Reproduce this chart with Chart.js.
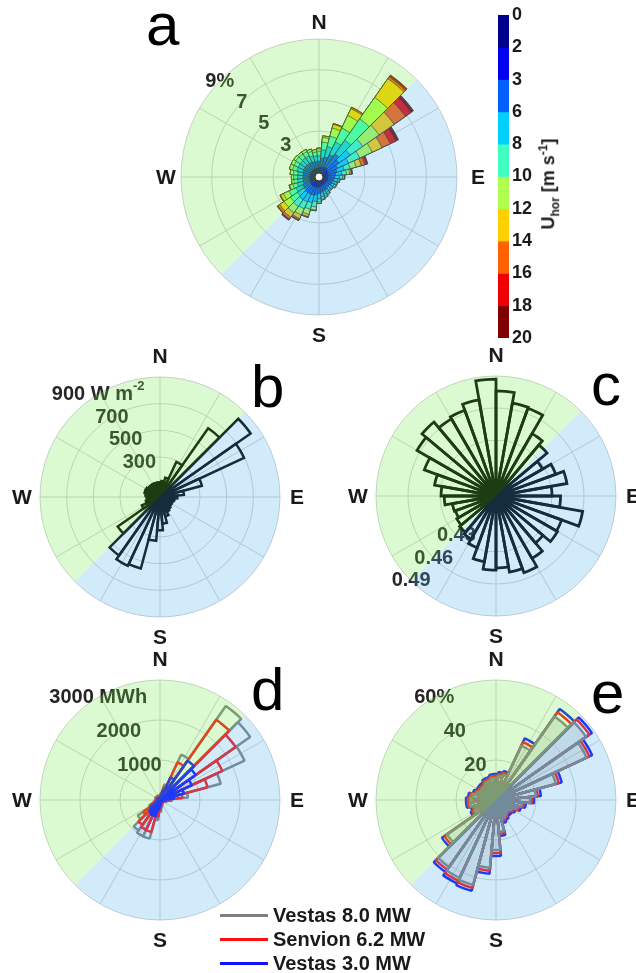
<!DOCTYPE html>
<html>
<head>
<meta charset="utf-8">
<title>Wind roses</title>
<script src="https://cdn.jsdelivr.net/npm/chart.js@4.4.1/dist/chart.umd.min.js"></script>
<style>
  html, body { margin: 0; padding: 0; background: #fff; overflow: hidden; }
  body { width: 636px; height: 973px; position: relative; }
  canvas { position: absolute; }
  .cbtitle { position: absolute; left: 549px; top: 184px; transform: translate(-50%, -50%) rotate(-90deg);
    font: bold 18px 'Liberation Sans', Arial, sans-serif; color: #1a1a1a; white-space: nowrap; }
  .cbtitle sub, .cbtitle sup { font-size: 12px; }
  #legend { position: absolute; left: 220px; top: 903px; font: bold 20px 'Liberation Sans', Arial, sans-serif; color: #1a1a1a; }
  #legend div { height: 24px; display: flex; align-items: center; white-space: nowrap; }
  #legend span { display: inline-block; width: 48px; height: 3px; margin-right: 5px; }
</style>
</head>
<body>
<canvas id="roseA" width="356" height="356" style="left:141px;top:-1px"></canvas>
<canvas id="speedBar" width="146" height="353" style="left:490px;top:0px"></canvas>
<canvas id="roseB" width="320" height="320" style="left:0px;top:337px"></canvas>
<canvas id="roseC" width="320" height="320" style="left:336px;top:336px"></canvas>
<canvas id="roseD" width="320" height="320" style="left:0px;top:640px"></canvas>
<canvas id="roseE" width="320" height="320" style="left:336px;top:640px"></canvas>
<div class="cbtitle">U<sub>hor</sub> [m s<sup>-1</sup>]</div>
<div id="legend"></div>
<script>
// direction bins (deg from north)
const directions = [0,10,20,30,40,50,60,70,80,90,100,110,120,130,140,150,160,170,
                    180,190,200,210,220,230,240,250,260,270,280,290,300,310,320,330,340,350];

// (a) frequency of occurrence [%] per speed class
const speedTicks = ['0','2','3','6','8','10','12','14','16','18','20'];
const speedColors = ['#00008f','#0000f0','#0060ff','#00d0ff','#40ffbf','#b0ff4f','#ffcf00','#ff6000','#f00000','#800000'];
const freq0to2 = [0.28,0.30,0.31,0.32,0.33,0.32,0.31,0.30,0.30,0.29,0.28,0.28,0.27,0.27,0.28,0.28,0.29,0.30,
                  0.31,0.32,0.33,0.33,0.34,0.33,0.32,0.31,0.30,0.30,0.29,0.29,0.29,0.29,0.28,0.28,0.28,0.28];
const freq2to3 = [0.30,0.34,0.35,0.40,0.40,0.36,0.32,0.30,0.30,0.29,0.29,0.28,0.28,0.27,0.28,0.28,0.29,0.30,
                  0.31,0.34,0.35,0.36,0.36,0.35,0.34,0.31,0.30,0.30,0.30,0.30,0.31,0.31,0.30,0.30,0.30,0.30];
const freq3to6 = [0.45,0.60,0.70,0.90,1.10,0.90,0.70,0.60,0.50,0.45,0.40,0.35,0.35,0.30,0.30,0.35,0.35,0.40,
                  0.45,0.50,0.55,0.55,0.55,0.50,0.50,0.45,0.45,0.45,0.45,0.50,0.50,0.50,0.50,0.50,0.45,0.45];
const freq6to8 = [0.35,0.55,0.70,0.90,1.10,0.90,0.80,0.50,0.40,0.30,0.25,0.20,0.20,0.20,0.20,0.20,0.25,0.30,
                  0.35,0.45,0.50,0.55,0.55,0.55,0.50,0.40,0.35,0.35,0.35,0.40,0.40,0.40,0.45,0.45,0.40,0.35];
const freq8to10 = [0.30,0.50,0.70,1.00,1.70,1.00,0.80,0.40,0.30,0.20,0.10,0.10,0.10,0.07,0.07,0.10,0.12,0.15,
                   0.20,0.35,0.45,0.50,0.55,0.55,0.50,0.30,0.25,0.25,0.30,0.30,0.30,0.35,0.30,0.30,0.30,0.25];
const freq10to12 = [0.15,0.30,0.55,0.90,1.70,1.30,0.90,0.40,0.20,0.10,0.05,0.05,0.05,0.03,0.03,0.05,0.08,0.05,
                    0.10,0.20,0.35,0.45,0.50,0.50,0.40,0.20,0.15,0.15,0.20,0.20,0.20,0.15,0.15,0.15,0.15,0.15];
const freq12to14 = [0.05,0.10,0.25,0.50,1.50,1.20,0.70,0.35,0.10,0.03,0,0,0,0,0,0,0,0,
                    0,0.05,0.15,0.25,0.35,0.35,0.20,0.05,0,0,0,0,0,0,0,0,0,0];
const freq14to16 = [0,0,0.05,0.10,0.15,0.90,0.60,0.25,0.05,0.02,0,0,0,0,0,0,0,0,
                    0,0,0.05,0.10,0.15,0.15,0.05,0,0,0,0,0,0,0,0,0,0,0];
const freq16to18 = [0,0,0,0,0.10,0.45,0.40,0.15,0.03,0,0,0,0,0,0,0,0,0,
                    0,0,0,0.05,0.07,0.05,0,0,0,0,0,0,0,0,0,0,0,0];
const freq18to20 = [0,0,0,0,0.05,0.20,0.20,0.05,0.02,0,0,0,0,0,0,0,0,0,
                    0,0,0,0,0.03,0,0,0,0,0,0,0,0,0,0,0,0,0];
const aRings = [0, 1, 3, 5, 7, 9];
const aLabelValues = [3, 5, 7, 9];
const aLabelText = ['3', '5', '7', '9%'];

// (b) wind power density [W m-2]
const powerDensity = [110,120,150,290,630,830,695,325,180,130,110,100,100,100,110,120,150,200,
                      250,330,555,570,535,387,150,110,100,100,110,120,120,110,110,110,110,110];
const bRings = [0, 100, 300, 500, 700, 900];
const bLabelValues = [300, 500, 700, 900];
const bLabelText = ['300', '500', '700', [{t: '900 W m'}, {t: '-2', sup: true}]];

// (c) bins start at the given direction (0-10, 10-20, ...)
const panelC = [0.476,0.466,0.465,0.445,0.440,0.428,0.437,0.445,0.430,0.438,0.460,0.443,0.444,0.435,0.445,0.454,0.450,0.445,
                0.447,0.440,0.429,0.424,0.422,0.420,0.418,0.419,0.426,0.429,0.436,0.449,0.463,0.468,0.461,0.463,0.469,0.487];
const cRings = [0.3775, 0.40, 0.43, 0.46, 0.49];
const cLabelValues = [0.43, 0.46, 0.49];
const cLabelText = ['0.43', '0.46', '0.49'];

// (d) energy yield [MWh], (e) capacity factor [%]
const turbines = ['Vestas 8.0 MW', 'Senvion 6.2 MW', 'Vestas 3.0 MW'];
const turbineColors = ['#808080', '#ff1010', '#1010ff'];
const yieldV80 = [120,180,400,1250,2870,2750,2330,1570,700,300,180,120,100,100,110,120,150,200,
                  300,500,1000,1000,930,680,300,180,140,120,120,130,130,120,120,120,120,120];
const yieldS62 = [100,150,330,1040,2450,2310,1720,1230,560,240,150,100,80,80,90,100,120,160,
                  250,420,830,820,760,510,240,150,110,100,100,110,110,100,100,100,100,100];
const yieldV30 = [60,90,250,620,1200,1090,875,620,350,150,90,60,50,50,55,60,75,100,
                  150,250,420,420,380,300,140,90,70,60,60,65,65,60,60,60,60,60];
const dRings = [0, 1000, 2000, 3000];
const dLabelValues = [1000, 2000, 3000];
const dLabelText = ['1000', '2000', '3000 MWh'];

const cfV80 = [11,12,13,30,51,55,50,31,20,17,13,11,9,8,8,9,10,16,
               25,34,44,43,41,30,12,11,13,13,12,10,9,9,9,10,10,11];
const cfS62 = [12,13,14,32,53.5,57,51.5,32.5,21,18,14,12,10,9,9,10,11,17,
               26.5,35.5,45.5,44.5,42.5,31.5,13,12,14,14,13,11,10,10,10,11,11,12];
const cfV30 = [13,14,15,34,55.5,58.5,53,34,22.5,19,15,13,11,10,10,11,12,18,
               28,37,47,46,44,33,14,13,15,15,14,12,11,11,11,12,12,13];
const eRings = [0, 20, 40, 60];
const eLabelValues = [20, 40, 60];
const eLabelText = ['20', '40', '60%'];

const FONT = "'Liberation Sans', Arial, Helvetica, sans-serif";
const GRID = '#cfcfcf';
Chart.defaults.font.family = FONT;

function polar(cx, cy, d, bearing) {
  const a = (bearing - 90) * Math.PI / 180;
  return {x: cx + d * Math.cos(a), y: cy + d * Math.sin(a)};
}

function drawParts(ctx, parts, x, y, size) {
  if (typeof parts === 'string') parts = [{t: parts}];
  const main = 'bold ' + size + 'px ' + FONT, small = 'bold ' + Math.round(size * 0.65) + 'px ' + FONT;
  let w = 0;
  parts.forEach(p => { ctx.font = p.sup ? small : main; w += ctx.measureText(p.t).width; });
  let px = x - w / 2;
  ctx.textAlign = 'left';
  parts.forEach(p => {
    ctx.font = p.sup ? small : main;
    ctx.fillText(p.t, px, p.sup ? y - size * 0.38 : y);
    px += ctx.measureText(p.t).width;
  });
}

// spokes, ring labels, land/sea sectors, compass letters
const roseDecor = {
  id: 'roseDecor',
  beforeDatasetsDraw(chart, args, o) {
    const s = chart.scales.r, ctx = chart.ctx;
    const cx = s.xCenter, cy = s.yCenter, R = s.drawingArea;
    ctx.save();
    ctx.strokeStyle = GRID;
    ctx.lineWidth = 1;
    for (let b = 0; b < 360; b += 30) {
      const p = polar(cx, cy, R, b);
      ctx.beginPath(); ctx.moveTo(cx, cy); ctx.lineTo(p.x, p.y); ctx.stroke();
    }
    ctx.fillStyle = '#262626';
    ctx.textBaseline = 'middle';
    o.labelValues.forEach((v, i) => {
      const p = polar(cx, cy, s.getDistanceFromCenterForValue(v), o.labelBearing);
      drawParts(ctx, o.labelText[i], p.x, p.y, 20);
    });
    ctx.restore();
  },
  afterDatasetsDraw(chart, args, o) {
    const s = chart.scales.r, ctx = chart.ctx;
    const cx = s.xCenter, cy = s.yCenter, R = s.drawingArea;
    const rad = b => (b - 90) * Math.PI / 180;
    ctx.save();
    ctx.fillStyle = 'rgba(118,235,78,0.255)';
    ctx.beginPath(); ctx.moveTo(cx, cy); ctx.arc(cx, cy, R, rad(225), rad(405)); ctx.closePath(); ctx.fill();
    ctx.fillStyle = 'rgba(78,176,235,0.255)';
    ctx.beginPath(); ctx.moveTo(cx, cy); ctx.arc(cx, cy, R, rad(45), rad(225)); ctx.closePath(); ctx.fill();
    if (o.hole) {
      ctx.beginPath(); ctx.arc(cx, cy, 4, 0, Math.PI * 2);
      ctx.fillStyle = '#fff'; ctx.fill();
      ctx.strokeStyle = '#333'; ctx.lineWidth = 1; ctx.stroke();
    }
    ctx.fillStyle = '#1a1a1a';
    ctx.font = 'bold 21px ' + FONT;
    ctx.textAlign = 'center';
    ctx.textBaseline = 'middle';
    const gaps = o.gaps || [21, 17, 20, 18];
    ['N', 'E', 'S', 'W'].forEach((t, i) => {
      const p = polar(cx, cy, R + gaps[i], i * 90);
      ctx.fillText(t, p.x, p.y + 1);
    });
    ctx.fillStyle = '#000';
    ctx.font = '60px ' + FONT;
    ctx.textAlign = 'left';
    ctx.textBaseline = 'alphabetic';
    ctx.fillText(o.letter, cx + o.letterAt[0], cy + o.letterAt[1]);
    ctx.restore();
  }
};

function rose(id, datasets, scale, decor) {
  return new Chart(document.getElementById(id), {
    type: 'polarArea',
    data: {labels: directions, datasets: datasets},
    options: {
      responsive: false,
      animation: false,
      layout: {padding: 40},
      plugins: {legend: {display: false}, tooltip: {enabled: false}, roseDecor: decor},
      scales: {
        r: {
          min: scale.min, max: scale.max, startAngle: scale.startAngle,
          ticks: {display: false},
          angleLines: {display: false},
          pointLabels: {display: false},
          grid: {circular: true, color: GRID, lineWidth: 1},
          afterBuildTicks: sc => { sc.ticks = scale.rings.map(v => ({value: v})); }
        }
      }
    },
    plugins: [roseDecor]
  });
}

// (a) stacked speed classes, drawn as cumulative arcs (smallest on top)
const speedClasses = [freq0to2, freq2to3, freq3to6, freq6to8, freq8to10, freq10to12, freq12to14, freq14to16, freq16to18, freq18to20];
let running = directions.map(() => 0);
const aSets = speedClasses.map((cls, k) => {
  running = running.map((v, i) => v + cls[i]);
  return {data: running.slice(), backgroundColor: speedColors[k], borderColor: 'rgba(35,35,35,0.85)', borderWidth: 0.8};
});
rose('roseA', aSets, {min: 0, max: 9, startAngle: -5, rings: aRings},
     {labelValues: aLabelValues, labelText: aLabelText, labelBearing: 314, letter: 'a', letterAt: [-173, -132], hole: true,
      gaps: [17, 21, 20, 15]});

rose('roseB', [{data: powerDensity, backgroundColor: 'rgba(0,0,0,0)', borderColor: '#000', borderWidth: 2.5, borderJoinStyle: 'miter'}],
     {min: 0, max: 900, startAngle: -5, rings: bRings},
     {labelValues: bLabelValues, labelText: bLabelText, labelBearing: 329, letter: 'b', letterAt: [91, -90]});

rose('roseC', [{data: panelC, backgroundColor: 'rgba(0,0,0,0)', borderColor: '#000', borderWidth: 2.8, borderJoinStyle: 'miter'}],
     {min: 0.3775, max: 0.49, startAngle: 0, rings: cRings},
     {labelValues: cLabelValues, labelText: cLabelText, labelBearing: 225, letter: 'c', letterAt: [95, -91]});

rose('roseD', [
    {label: turbines[2], data: yieldV30, backgroundColor: 'rgba(0,0,0,0)', borderColor: turbineColors[2], borderWidth: 2.5},
    {label: turbines[1], data: yieldS62, backgroundColor: 'rgba(0,0,0,0)', borderColor: turbineColors[1], borderWidth: 2.5},
    {label: turbines[0], data: yieldV80, backgroundColor: 'rgba(0,0,0,0)', borderColor: turbineColors[0], borderWidth: 2.5}
  ],
  {min: 0, max: 3000, startAngle: -5, rings: dRings},
  {labelValues: dLabelValues, labelText: dLabelText, labelBearing: 329, letter: 'd', letterAt: [91, -90]});

rose('roseE', [
    {label: turbines[0], data: cfV80, backgroundColor: 'rgba(120,120,120,0.18)', borderColor: turbineColors[0], borderWidth: 2.5},
    {label: turbines[1], data: cfS62, backgroundColor: 'rgba(0,0,0,0)', borderColor: turbineColors[1], borderWidth: 2.5},
    {label: turbines[2], data: cfV30, backgroundColor: 'rgba(0,0,0,0)', borderColor: turbineColors[2], borderWidth: 2.5}
  ],
  {min: 0, max: 60, startAngle: -5, rings: eRings},
  {labelValues: eLabelValues, labelText: eLabelText, labelBearing: 329, letter: 'e', letterAt: [95, -87]});

// colour bar for (a)
new Chart(document.getElementById('speedBar'), {
  type: 'bar',
  data: {labels: [''], datasets: speedColors.map(c => ({data: [1], backgroundColor: c, borderWidth: 0, barPercentage: 1, categoryPercentage: 1}))},
  options: {
    responsive: false,
    animation: false,
    layout: {padding: {left: 8, top: 15, bottom: 15, right: 0}},
    plugins: {legend: {display: false}, tooltip: {enabled: false}},
    scales: {
      x: {display: false, stacked: true},
      y: {
        stacked: true, min: 0, max: 10, reverse: true, position: 'right',
        grid: {display: false, drawTicks: false},
        border: {display: false},
        ticks: {stepSize: 1, autoSkip: false, padding: 3, color: '#1a1a1a', font: {size: 18, weight: 'bold'},
                callback: v => speedTicks[v]},
        afterFit: sc => { sc.width = 127; }
      }
    }
  }
});

// shared legend for (d) and (e)
const legend = document.getElementById('legend');
turbines.forEach((name, i) => {
  const row = document.createElement('div');
  const line = document.createElement('span');
  line.style.background = turbineColors[i];
  row.appendChild(line);
  row.appendChild(document.createTextNode(name));
  legend.appendChild(row);
});
</script>
</body>
</html>
